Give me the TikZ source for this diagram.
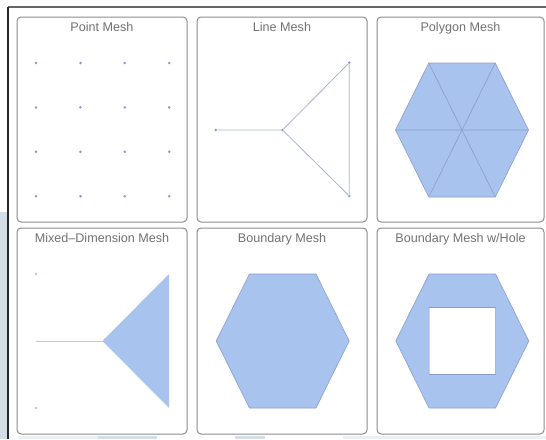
\documentclass[tikz,border=0pt]{standalone}
\usepackage{fontspec}
\setmainfont{Liberation Sans}
\usetikzlibrary{positioning,calc}
\definecolor{meshFill}{HTML}{A8C4EE}
\definecolor{meshEdge}{HTML}{8A9CCB}
\definecolor{meshLine}{HTML}{A3B4DC}
\definecolor{meshLight}{HTML}{B4C8EE}
\definecolor{meshDot}{HTML}{8898C8}
\definecolor{panelLine}{HTML}{8C8C8C}
\definecolor{titleGray}{HTML}{727272}
\definecolor{pageBg}{HTML}{D3DEE7}
\newcommand{\meshHex}{(-1,0) -- (-0.5,-1) -- (0.5,-1) -- (1,0) -- (0.5,1) -- (-0.5,1) -- cycle}
\tikzset{
  meshPanel/.style={
    draw=panelLine,
    rounded corners=4pt,
    line width=1pt,
    minimum width=170pt,
    minimum height=205pt,
    inner sep=0pt
  },
  meshTitle/.style={
    font=\fontsize{12.6}{14}\selectfont,
    text=titleGray,
    inner sep=0pt,
    anchor=base
  },
  meshFace/.style={
    fill=meshFill,
    draw=meshEdge,
    line width=0.6pt,
    line join=round
  },
  meshSeg/.style={
    draw=meshLine,
    line width=0.8pt
  },
  meshPt/.style={
    circle,
    fill=meshDot,
    inner sep=0pt,
    minimum size=2.8pt
  },
  meshUnit/.style={
    x=66.5pt,
    y=-67pt
  }
}

\begin{document}
\begin{tikzpicture}[x=1pt, y=-1pt]
  % page behind the panels
  \useasboundingbox (0,0) rectangle (546,439);
  \fill[white] (0,0) rectangle (546,439);
  \fill[pageBg] (0,212) rectangle (7.5,439);
  \fill[pageBg!45] (18,436) rectangle (98,439);
  \fill[pageBg] (98,436) rectangle (157,439);
  \fill[pageBg] (235,436) rectangle (265,439);
  \fill[pageBg!45] (343,436) rectangle (546,439);
  \draw[black!60, line width=1.5pt] (8,7) -- (546,7);
  \draw[black!85, line width=1.3pt] (8,7) -- (8,439);

  \node[meshPanel] (pointPanel) at (102,119.5) {};
  \node[meshPanel] (linePanel) at (282,119.5) {};
  \node[meshPanel, minimum width=167pt] (polyPanel) at (460.5,119.5) {};
  \node[meshPanel, minimum height=206pt] (mixedPanel) at (102,331) {};
  \node[meshPanel, minimum height=206pt] (boundPanel) at (282,331) {};
  \node[meshPanel, minimum width=167pt, minimum height=206pt] (holePanel) at (460.5,331) {};

  \node[meshTitle] (pointTitle) at ([yshift=-14.5pt]pointPanel.north) {Point Mesh};
  \node[meshTitle] (lineTitle) at ([yshift=-14.5pt]linePanel.north) {Line Mesh};
  \node[meshTitle] (polyTitle) at ([yshift=-14.5pt]polyPanel.north) {Polygon Mesh};
  \node[meshTitle] (mixedTitle) at ([yshift=-14.5pt]mixedPanel.north) {Mixed--Dimension Mesh};
  \node[meshTitle] (boundTitle) at ([yshift=-14.5pt]boundPanel.north) {Boundary Mesh};
  \node[meshTitle] (holeTitle) at ([yshift=-14.5pt]holePanel.north) {Boundary Mesh w/Hole};

  % point mesh
  \foreach \i in {0,...,3}
    \foreach \j in {0,...,3}
      \node[meshPt] (pt\i\j) at (36+44.4*\i, 63+44.4*\j) {};

  % line mesh
  \node[meshPt] (lmA) at (215.7,130) {};
  \node[meshPt] (lmO) at (282.5,130) {};
  \node[meshPt] (lmB) at (349.3,62.7) {};
  \node[meshPt] (lmC) at (349.3,196) {};
  \draw[meshSeg] (lmA) -- (lmO) -- (lmB) -- (lmC) -- (lmO);

  % polygon mesh
  \begin{scope}[shift={(462,130)}, meshUnit]
    \fill[meshFill] \meshHex;
    \draw[meshEdge, line width=0.6pt] (-1,0) -- (1,0) (-0.5,-1) -- (0.5,1) (0.5,-1) -- (-0.5,1);
    \draw[meshEdge, line width=0.6pt, line join=round] \meshHex;
  \end{scope}

  % mixed-dimension mesh
  \begin{scope}[shift={(102.5,341)}, meshUnit]
    \coordinate (mxL) at (-1,0);
    \coordinate (mxO) at (0,0);
    \coordinate (mxB) at (1,-1);
    \coordinate (mxC) at (1,1);
    \node[meshPt, fill=meshLight] (mxP) at (-1,-1) {};
    \node[meshPt, fill=meshLight] (mxQ) at (-1,1) {};
    \draw[draw=meshLight, line width=0.9pt] (mxL) -- (mxO);
    \fill[meshFill] (mxO) -- (mxB) -- (mxC) -- cycle;
  \end{scope}

  % boundary mesh
  \begin{scope}[shift={(282.7,341)}, meshUnit]
    \path[meshFace] \meshHex;
  \end{scope}

  % boundary mesh with hole
  \begin{scope}[shift={(462.3,341)}, meshUnit]
    \path[meshFace, even odd rule] \meshHex (-0.5,-0.5) rectangle (0.5,0.5);
  \end{scope}
\end{tikzpicture}
\end{document}
